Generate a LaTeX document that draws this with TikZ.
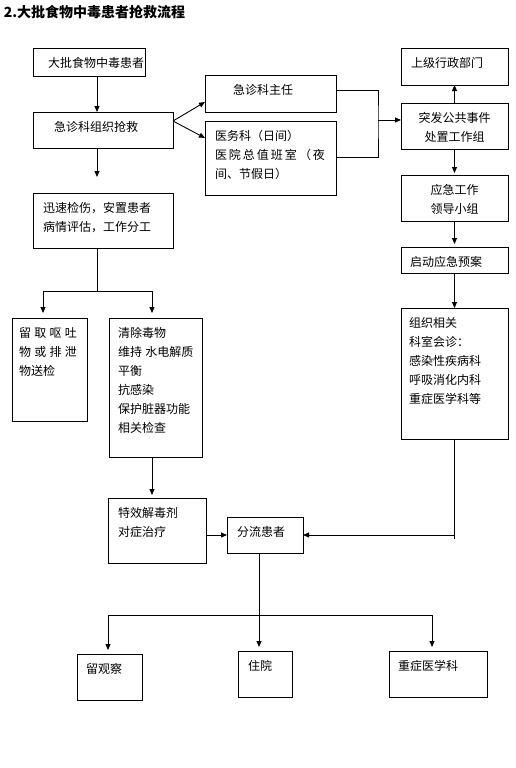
\documentclass[tikz,border=0pt]{standalone}
\usepackage{fontspec}
\setmainfont{Noto Sans CJK SC}
\usetikzlibrary{arrows.meta,calc}

% box of given width and height, text starting at the top
\newcommand{\boxlines}[4]{\parbox[c][#2pt][t]{#1pt}{#3\relax\vspace*{9pt}#4}}

\begin{document}
\begin{tikzpicture}[x=1pt, y=-1pt, line width=0.9pt,
    box/.style={draw, anchor=north west, inner sep=0pt, outer sep=0pt, font=\fontsize{12}{19}\selectfont},
    arr/.style={-{Triangle[length=6pt,width=5pt]}}]
    \useasboundingbox (0,0) rectangle (516,768);

    % Title
    \node[anchor=west, font=\fontsize{14}{14}\selectfont\bfseries] (title) at (0,12) {2.大批食物中毒患者抢救流程};

    % Left column
    \node[box] (patients) at (33,48) {\boxlines{112}{28}{\raggedright\leftskip=15pt}{大批食物中毒患者}};
    \node[box] (rescue) at (33,112) {\boxlines{140}{36}{\raggedright\leftskip=21pt}{急诊科组织抢救}};
    \node[box] (triage) at (33,193) {\boxlines{140}{55}{\raggedright\leftskip=10pt}{迅速检伤，安置患者\\病情评估，工作分工}};
    \node[box] (sample) at (12,318) {\boxlines{75}{103}{\raggedright\leftskip=7pt}{留\;取\;呕\;吐\\物\;或\;排\;泄\\物送检}};
    \node[box] (treat) at (109,318) {\boxlines{93}{139}{\raggedright\leftskip=9pt}{清除毒物\\维持\;水电解质\\平衡\\抗感染\\保护脏器功能\\相关检查}};
    \node[box] (antidote) at (108,498) {\boxlines{98}{65}{\raggedright\leftskip=10pt}{特效解毒剂\\对症治疗}};
    \node[box] (divert) at (227,517) {\boxlines{76}{36}{\raggedright\leftskip=10pt}{分流患者}};
    \node[box] (observe) at (77,654) {\boxlines{65}{46}{\raggedright\leftskip=9pt}{留观察}};
    \node[box] (admit) at (238,651) {\boxlines{54}{46}{\raggedright\leftskip=10pt}{住院}};
    \node[box] (icu) at (389,651) {\boxlines{98}{46}{\raggedright\leftskip=9pt}{重症医学科}};

    % Middle column
    \node[box] (director) at (205,75) {\boxlines{131}{37}{\raggedright\leftskip=28pt}{急诊科主任}};
    \node[box] (office) at (205,121) {\boxlines{131}{74}{\raggedright\leftskip=10pt}{医务科（日间）\\医\,院\,总\,值\,班\,室\,（\,夜\\间、节假日）}};

    % Right column
    \node[box] (upper) at (401,48) {\boxlines{107}{37}{\raggedright\leftskip=10pt}{上级行政部门}};
    \node[box] (group) at (401,103) {\boxlines{107}{46}{\centering}{突发公共事件\\处置工作组}};
    \node[box] (leader) at (401,175) {\boxlines{107}{46}{\centering}{应急工作\\领导小组}};
    \node[box] (plan) at (401,247) {\boxlines{107}{26}{\raggedright\leftskip=9pt}{启动应急预案}};
    \node[box] (consult) at (401,308) {\boxlines{107}{131}{\raggedright\leftskip=8pt}{组织相关\\科室会诊：\\感染性疾病科\\呼吸消化内科\\重症医学科等}};

    % Arrows down the left side
    \coordinate (colA) at (97,0);
    \coordinate (colB) at (152,0);
    \coordinate (fork) at (97,291);
    \draw[arr] (patients.south -| colA) -- (rescue.north -| colA);
    \draw[arr, shorten >=16pt] (rescue.south -| colA) -- (triage.north -| colA);
    \draw (triage.south -| colA) -- (fork);
    \draw[arr, shorten >=5pt] (fork) -| ($(sample.north west)+(31,0)$);
    \draw[arr, shorten >=5pt] (fork) -| (treat.north -| colB);
    \draw[arr, shorten >=3pt] (treat.south -| colB) -- (antidote.north -| colB);
    \draw[arr] (antidote.east |- divert.west) -- (divert.west);

    % Splitting the patients
    \coordinate (split) at (259,615);
    \draw (divert.south -| split) -- (split);
    \draw[arr, shorten >=4pt] (split) -| ($(observe.north west)+(31,0)$);
    \draw[arr, shorten >=4pt] (split) -- (admit.north -| split);
    \draw[arr, shorten >=4pt] (split) -| ($(icu.north west)+(43,0)$);

    % Reporting to the working group
    \coordinate (ray) at ($(rescue.north east)+(0,9)$);
    \coordinate (join) at (378,120);
    \draw[arr] (ray) -- ($(director.north west)+(0,27)$);
    \draw[arr] (ray) -- ($(office.north west)+(0,17)$);
    \draw ($(director.north east)+(0,15)$) -| (join) |- ($(office.north east)+(0,36)$);
    \draw[arr] (join) -- (join -| group.west);

    % Arrows down the right side
    \draw[arr] (group.north) -- (upper.south);
    \draw[arr, shorten >=2pt] (group.south) -- (leader.north);
    \draw[arr, shorten >=3pt] (leader.south) -- (plan.north);
    \draw[arr] (plan.south) -- (consult.north);
    \draw (consult.south) -- ($(consult.south |- divert.east)+(0,4)$);
    \draw[arr] (consult.south |- divert.east) -- (divert.east);
\end{tikzpicture}
\end{document}
